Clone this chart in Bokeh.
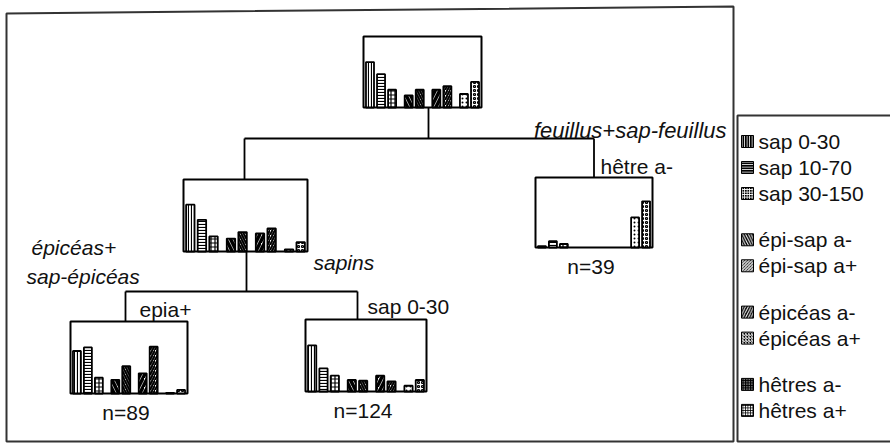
from bokeh.plotting import figure
from bokeh.models import Range1d
from bokeh.core.properties import value
from bokeh.embed import file_html
from bokeh.resources import INLINE

# ---------------- data ----------------
categories = ["sap 0-30", "sap 10-70", "sap 30-150", "épi-sap a-", "épi-sap a+",
              "épicéas a-", "épicéas a+", "hêtres a-", "hêtres a+"]
category_group = [0, 0, 0, 1, 1, 2, 2, 3, 3]

# bar heights of each node's mini chart (% of the chart height)
root_vals = [64, 47, 25, 17, 25, 25, 30, 19, 36]
mixed_vals = [65, 44, 21, 18, 27, 25, 32, 3, 13]
beech_vals = [2, 9, 5, 0, 0, 0, 0, 43, 66]
spruce_vals = [59, 64, 22, 19, 38, 28, 65, 1, 5]
fir_vals = [64, 32, 22, 16, 15, 22, 14, 8, 16]

node_names = ["root", "mixed", "beech", "spruce", "fir"]
node_values = [root_vals, mixed_vals, beech_vals, spruce_vals, fir_vals]
node_counts = ["", "", "n=39", "n=89", "n=124"]

split_italic = ["feuillus+sap-feuillus", "épicéas+", "sap-épicéas", "sapins"]
split_plain = ["hêtre a-", "epia+", "sap 0-30"]

# ---------------- styles / layout ----------------
hatch = ["vertical_line", "horizontal_line", "cross", "left_diagonal_line",
         "left_diagonal_line", "right_diagonal_line", "right_diagonal_line", "dot", "ring"]
hatch_scale = [3, 3, 4, 9, 5, 9, 5, 4, 4]
hatch_weight = [1.2, 1.2, 1.2, 3.5, 2, 3.5, 2, 1.5, 1.2]

# x0, top, width, height of each node box (page pixel frame)
boxes = {
    "root": (363, 36, 118, 71),
    "mixed": (183, 179, 124, 72),
    "beech": (535, 177, 117, 70),
    "spruce": (70, 321, 117, 72),
    "fir": (305, 319, 121, 72),
}

FONT = "Liberation Sans"
FS = "21px"
TXT = "#111111"

p = figure(width=890, height=443, output_backend="svg", toolbar_location=None,
           x_range=Range1d(0, 890), y_range=Range1d(443, 0), min_border=0)
p.axis.visible = False
p.grid.visible = False
p.outline_line_color = None
p.background_fill_color = "white"

# outer frame and legend frame
p.patch([6, 733, 733, 6], [13, 6, 441, 441], fill_color=None, line_color="#333", line_width=2)
p.line([891, 737, 737, 891], [115, 115, 441, 441], line_color="#333", line_width=2)


def cx(name):
    x0, t, w, h = boxes[name]
    return x0 + w / 2


def top(name):
    return boxes[name][1]


def bottom(name):
    x0, t, w, h = boxes[name]
    return t + h


# tree connectors: (parent, left child, right child, stem x, left x, right x, level)
links = [("root", "mixed", "beech", 428, cx("mixed") - 1, cx("beech"), 138),
         ("mixed", "spruce", "fir", 246, 125, 357, 291)]
xs, ys = [], []
for parent, a, b, stem_x, ax, bx, level in links:
    xs.append([stem_x, stem_x]); ys.append([bottom(parent), level])
    xs.append([ax, bx]); ys.append([level, level])
    xs.append([ax, ax]); ys.append([level, top(a)])
    xs.append([bx, bx]); ys.append([level, top(b)])
p.multi_line(xs, ys, line_color="black", line_width=1.8)

# node boxes and mini bar charts
slot = [i + 0.5 * g for i, g in enumerate(category_group)]
for name, vals in zip(node_names, node_values):
    x0, t, w, h = boxes[name]
    p.quad(left=[x0], right=[x0 + w], top=[t], bottom=[t + h],
           fill_color="white", line_color="black", line_width=2)
    pad = 0.055 * w
    step = (w - 2 * pad) / slot[-1]
    bw = 0.068 * w
    lefts, rights, tops, bots, hp, hs, hwt = [], [], [], [], [], [], []
    for i, v in enumerate(vals):
        if v <= 0:
            continue
        c = x0 + pad + slot[i] * step
        lefts.append(c - bw / 2); rights.append(c + bw / 2)
        bots.append(t + h); tops.append(t + h - v / 100 * h)
        hp.append(hatch[i]); hs.append(hatch_scale[i]); hwt.append(hatch_weight[i])
    p.quad(left=lefts, right=rights, top=tops, bottom=bots, fill_color="white",
           line_color="black", line_width=1.8, hatch_pattern=hp, hatch_scale=hs,
           hatch_weight=hwt, hatch_color="black")

# node counts
cnt_x, cnt_y, cnt_t = [], [], []
for name, c in zip(node_names, node_counts):
    if c:
        cnt_x.append(cx(name) - 3); cnt_y.append(bottom(name) + 19); cnt_t.append(c)
p.text(cnt_x, cnt_y, text=cnt_t, text_font=value(FONT), text_font_size=FS,
       text_align="center", text_baseline="middle", text_color=TXT)

# split labels
p.text([726], [130], text=split_italic[:1], text_align="right", text_baseline="middle",
       text_font=value(FONT), text_font_size="22px", text_font_style="italic",
       text_color=TXT)
p.text([31, 26, 313], [247, 276, 262], text=split_italic[1:], text_align="left",
       text_baseline="middle", text_font=value(FONT), text_font_size=FS,
       text_font_style="italic", text_color=TXT)
p.text([600, 139, 367], [166, 309, 306], text=split_plain, text_align="left",
       text_baseline="middle", text_font=value(FONT), text_font_size=FS, text_color=TXT)

# legend
ly = [141 + 26 * i + 20.3 * g for i, g in enumerate(category_group)]
p.quad(left=[741] * 9, right=[753] * 9, top=[y - 6 for y in ly], bottom=[y + 6 for y in ly],
       fill_color="black", line_color="black", line_width=1, hatch_pattern=hatch,
       hatch_scale=[max(2.5, s * 0.6) for s in hatch_scale], hatch_weight=1,
       hatch_color="white")
p.text([758] * 9, ly, text=categories, text_align="left", text_baseline="middle",
       text_font=value(FONT), text_font_size=FS, text_color=TXT)

open("out.html", "w").write(file_html(p, INLINE))
